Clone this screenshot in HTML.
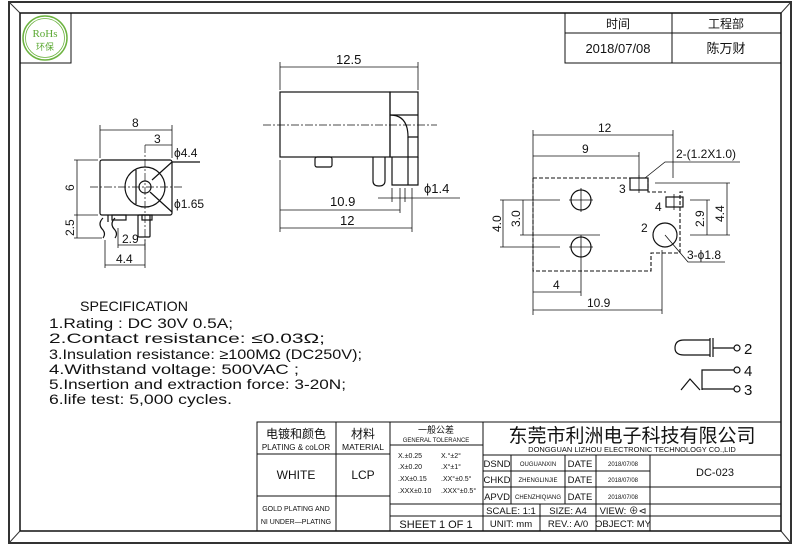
<!DOCTYPE html>
<html><head><meta charset="utf-8"><style>
html,body{margin:0;padding:0;background:#fff;}
svg{display:block;font-family:"Liberation Sans","Noto Sans CJK SC",sans-serif;}
</style></head><body>
<svg width="800" height="545" viewBox="0 0 800 545" xmlns="http://www.w3.org/2000/svg">
<rect x="0" y="0" width="800" height="545" fill="#fff"/>
<!-- frame -->
<rect x="9" y="2" width="782" height="541" fill="none" stroke="#333" stroke-width="2"/>
<rect x="20" y="13" width="761" height="518" fill="none" stroke="#111" stroke-width="1.5"/>
<g stroke="#333" stroke-width="1"><line x1="9" y1="2" x2="20" y2="13"/><line x1="791" y1="2" x2="781" y2="13"/><line x1="9" y1="543" x2="20" y2="531"/><line x1="791" y1="543" x2="781" y2="531"/></g>

<!-- RoHS -->
<rect x="20" y="13" width="51" height="50" fill="none" stroke="#111" stroke-width="1"/>
<circle cx="45" cy="38" r="22" fill="none" stroke="#6cb33f" stroke-width="1.5"/>
<circle cx="45" cy="38" r="19.5" fill="none" stroke="#6cb33f" stroke-width="0.8"/>
<text x="45" y="37" font-size="11" fill="#5aa832" text-anchor="middle" font-family="Liberation Serif,serif">RoHs</text>
<text x="45" y="50" font-size="9" fill="#5aa832" text-anchor="middle">环保</text>

<!-- top-right table -->
<g stroke="#111" stroke-width="1" fill="none">
<rect x="565" y="13" width="216" height="50"/>
<line x1="565" y1="33" x2="781" y2="33"/><line x1="672" y1="13" x2="672" y2="63"/>
</g>
<g font-size="12" text-anchor="middle" fill="#111">
<text x="618" y="28">时间</text><text x="726" y="28">工程部</text>
<text x="618" y="53" font-size="13">2018/07/08</text><text x="726" y="53" font-size="13">陈万财</text>
</g>

<!-- front view -->
<g stroke="#111" stroke-width="1.2" fill="none">
<rect x="100" y="160" width="72" height="55" rx="2"/>
<circle cx="145" cy="187" r="20"/>
<circle cx="145" cy="187" r="6"/>
<line x1="136" y1="170" x2="136" y2="204"/>
<line x1="152" y1="180" x2="172" y2="162"/><line x1="172" y1="162" x2="200" y2="162"/>
<line x1="150" y1="192" x2="172" y2="212"/>
<line x1="108" y1="215" x2="108" y2="222"/>
<path d="M103 218 q-6 6 0 12 q3 4 0 8"/><path d="M115 218 q-6 6 0 12 q3 4 0 8"/>
<rect x="112" y="215" width="14" height="5"/>
<rect x="138" y="215" width="12" height="22" rx="1"/><rect x="142" y="215" width="10" height="5"/>
</g>
<g stroke="#111" stroke-width="0.7" fill="none" stroke-dasharray="8 2 2 2">
<line x1="90" y1="187" x2="183" y2="187"/><line x1="145" y1="145" x2="145" y2="250"/>
</g>
<g stroke="#111" stroke-width="0.8" fill="none">
<line x1="100" y1="125" x2="100" y2="158"/><line x1="172" y1="125" x2="172" y2="158"/>
<line x1="100" y1="130" x2="172" y2="130"/>
<line x1="145" y1="145" x2="172" y2="145"/>
<line x1="74" y1="160" x2="98" y2="160"/><line x1="74" y1="215" x2="98" y2="215"/><line x1="74" y1="238" x2="102" y2="238"/>
<line x1="77" y1="160" x2="77" y2="238"/>
<line x1="118" y1="228" x2="118" y2="248"/><line x1="118" y1="245" x2="145" y2="245"/>
<line x1="105" y1="240" x2="105" y2="268"/><line x1="145" y1="240" x2="145" y2="268"/><line x1="105" y1="265" x2="145" y2="265"/>
</g>
<g font-size="12" fill="#111">
<text x="132" y="127">8</text><text x="154" y="143">3</text>
<text x="174" y="157">ϕ4.4</text><text x="174" y="208">ϕ1.65</text>
<text x="122" y="243">2.9</text><text x="116" y="263">4.4</text>
<text transform="translate(74,191) rotate(-90)">6</text>
<text transform="translate(74,236) rotate(-90)">2.5</text>
</g>

<!-- side view -->
<g stroke="#111" stroke-width="1.2" fill="none">
<rect x="280" y="92" width="110" height="65"/>
<rect x="390" y="92" width="28" height="65"/>
<path d="M390 115 q18 0 18 22 L418 137"/><line x1="390" y1="115" x2="418" y2="115"/>
<line x1="408" y1="137" x2="408" y2="185"/>
<rect x="315" y="157" width="17" height="10" rx="2"/>
<path d="M373 157 V181 q0 5 6 5 q6 0 6 -5 V157"/>
<path d="M392 157 V185 H418 V157"/>
</g>
<line x1="263" y1="125" x2="437" y2="125" stroke="#111" stroke-width="0.7" stroke-dasharray="8 2 2 2"/>
<g stroke="#111" stroke-width="0.8" fill="none">
<line x1="280" y1="62" x2="280" y2="90"/><line x1="418" y1="62" x2="418" y2="90"/><line x1="280" y1="67" x2="418" y2="67"/>
<line x1="280" y1="160" x2="280" y2="232"/><line x1="400" y1="188" x2="400" y2="213"/><line x1="412" y1="188" x2="412" y2="232"/>
<line x1="392" y1="188" x2="392" y2="202"/><line x1="405" y1="188" x2="405" y2="202"/>
<line x1="280" y1="210" x2="400" y2="210"/><line x1="280" y1="228" x2="412" y2="228"/>
<line x1="378" y1="198" x2="460" y2="198"/>
</g>
<g font-size="13" fill="#111">
<text x="336" y="64">12.5</text><text x="330" y="206">10.9</text><text x="340" y="225">12</text><text x="424" y="193">ϕ1.4</text>
</g>

<!-- bottom view right -->
<g stroke="#111" stroke-width="1.1" fill="none" stroke-dasharray="4 2">
<path d="M533 178 H630 M648 178 V192 H666 M683 192 H680 V253 H651 V271 H533 V178"/>
</g>
<g stroke="#111" stroke-width="1.2" fill="none">
<rect x="630" y="178" width="18" height="12"/><rect x="666" y="197" width="17" height="10"/>
<circle cx="581" cy="200" r="10"/><circle cx="581" cy="247" r="10"/><circle cx="665" cy="235" r="12"/>
</g>
<g stroke="#111" stroke-width="0.8" fill="none">
<line x1="569" y1="200" x2="593" y2="200"/><line x1="581" y1="188" x2="581" y2="212"/>
<line x1="569" y1="247" x2="593" y2="247"/><line x1="581" y1="235" x2="581" y2="259"/>
<line x1="639" y1="175" x2="639" y2="193"/><line x1="674" y1="194" x2="674" y2="210"/>
<line x1="533" y1="130" x2="533" y2="315"/><line x1="673" y1="130" x2="673" y2="178"/>
<line x1="533" y1="135" x2="673" y2="135"/>
<line x1="639" y1="152" x2="639" y2="178"/><line x1="533" y1="156" x2="639" y2="156"/>
<line x1="500" y1="200" x2="560" y2="200"/><line x1="500" y1="247" x2="560" y2="247"/>
<line x1="503" y1="200" x2="503" y2="247"/>
<line x1="520" y1="235" x2="600" y2="235"/><line x1="523" y1="200" x2="523" y2="235"/>
<line x1="655" y1="183" x2="730" y2="183"/><line x1="690" y1="200" x2="710" y2="200"/><line x1="690" y1="235" x2="730" y2="235"/>
<line x1="707" y1="200" x2="707" y2="235"/><line x1="727" y1="183" x2="727" y2="235"/>
<line x1="581" y1="259" x2="581" y2="296"/><line x1="533" y1="292" x2="581" y2="292"/>
<line x1="662" y1="250" x2="662" y2="314"/><line x1="533" y1="310" x2="662" y2="310"/>
<polyline points="645,178 665,162 740,162"/>
<polyline points="665,235 688,262 725,262"/>
</g>
<g font-size="12" fill="#111">
<text x="598" y="132">12</text><text x="582" y="153">9</text>
<text x="676" y="158">2-(1.2X1.0)</text>
<text x="619" y="193">3</text><text x="655" y="211">4</text><text x="641" y="232">2</text>
<text x="687" y="259">3-ϕ1.8</text>
<text x="553" y="289">4</text><text x="587" y="307">10.9</text>
<text transform="translate(501,232) rotate(-90)">4.0</text>
<text transform="translate(520,227) rotate(-90)">3.0</text>
<text transform="translate(704,227) rotate(-90)">2.9</text>
<text transform="translate(724,222) rotate(-90)">4.4</text>
</g>

<!-- specification -->
<g font-size="14" fill="#111">
<text x="80" y="311" textLength="108" lengthAdjust="spacingAndGlyphs">SPECIFICATION</text>
<text x="49" y="328" textLength="184" lengthAdjust="spacingAndGlyphs">1.Rating : DC 30V 0.5A;</text>
<text x="49" y="343" textLength="276" lengthAdjust="spacingAndGlyphs">2.Contact resistance: ≤0.03Ω;</text>
<text x="49" y="359" textLength="313" lengthAdjust="spacingAndGlyphs">3.Insulation resistance: ≥100MΩ (DC250V);</text>
<text x="49" y="374" textLength="250" lengthAdjust="spacingAndGlyphs">4.Withstand voltage: 500VAC ;</text>
<text x="49" y="389" textLength="297" lengthAdjust="spacingAndGlyphs">5.Insertion and extraction force: 3-20N;</text>
<text x="49" y="404" textLength="183" lengthAdjust="spacingAndGlyphs">6.life test: 5,000 cycles.</text>
</g>

<!-- schematic -->
<g stroke="#111" stroke-width="1.2" fill="none">
<path d="M710 340 H684 q-9 0 -9 8 q0 7 9 7 H710"/><line x1="710" y1="338" x2="710" y2="357"/><line x1="713" y1="338" x2="713" y2="357"/>
<line x1="713" y1="348" x2="734" y2="348"/><circle cx="737" cy="348" r="3"/>
<polyline points="702,390 702,370 734,370"/><circle cx="737" cy="370" r="3"/>
<line x1="702" y1="389" x2="734" y2="389"/><circle cx="737" cy="389" r="3"/>
<polyline points="681,390 690,379 700,390"/>
</g>
<g font-size="15" fill="#111"><text x="744" y="354">2</text><text x="744" y="376">4</text><text x="744" y="395">3</text></g>

<!-- title block -->
<g stroke="#111" stroke-width="1" fill="none">
<rect x="257" y="422" width="524" height="109"/>
<line x1="336" y1="422" x2="336" y2="531"/><line x1="390" y1="422" x2="390" y2="531"/><line x1="483" y1="422" x2="483" y2="531"/>
<line x1="257" y1="454" x2="390" y2="454"/><line x1="257" y1="496" x2="390" y2="496"/>
<line x1="390" y1="445" x2="483" y2="445"/>
<line x1="390" y1="504" x2="781" y2="504"/><line x1="390" y1="516" x2="781" y2="516"/>
<line x1="483" y1="455" x2="781" y2="455"/><line x1="483" y1="471" x2="650" y2="471"/><line x1="483" y1="487" x2="781" y2="487"/>
<line x1="511" y1="455" x2="511" y2="504"/><line x1="565" y1="455" x2="565" y2="504"/><line x1="596" y1="455" x2="596" y2="531"/><line x1="650" y1="455" x2="650" y2="531"/>
<line x1="540" y1="504" x2="540" y2="531"/>
</g>
<g fill="#111" text-anchor="middle">
<text x="296" y="438" font-size="12">电镀和颜色</text>
<text x="296" y="450" font-size="8">PLATING &amp; coLOR</text>
<text x="363" y="438" font-size="12">材料</text>
<text x="363" y="450" font-size="8.5">MATERIAL</text>
<text x="436" y="433" font-size="9">一般公差</text>
<text x="436" y="442" font-size="6">GENERAL TOLERANCE</text>
<text x="296" y="479" font-size="12">WHITE</text>
<text x="363" y="479" font-size="12">LCP</text>
<text x="296" y="511" font-size="7">GOLD PLATING AND</text>
<text x="296" y="524" font-size="7">NI UNDER—PLATING</text>
<text x="436" y="528" font-size="11">SHEET 1 OF 1</text>
<text x="632" y="442" font-size="19">东莞市利洲电子科技有限公司</text>
<text x="632" y="452" font-size="7.5">DONGGUAN LIZHOU ELECTRONIC TECHNOLOGY CO.,LID</text>
<text x="715" y="476" font-size="11">DC-023</text>
</g>
<g fill="#111" font-size="7">
<text x="398" y="458">X.±0.25</text><text x="441" y="458">X.°±2°</text>
<text x="398" y="469">.X±0.20</text><text x="441" y="469">.X°±1°</text>
<text x="398" y="481">.XX±0.15</text><text x="441" y="481">.XX°±0.5°</text>
<text x="398" y="493">.XXX±0.10</text><text x="441" y="493">.XXX°±0.5°</text>
</g>
<g fill="#111" font-size="9.5" text-anchor="middle">
<text x="497" y="467">DSND</text><text x="497" y="483">CHKD</text><text x="497" y="500">APVD</text>
<text x="580" y="467">DATE</text><text x="580" y="483">DATE</text><text x="580" y="500">DATE</text>
<text x="511" y="514">SCALE: 1:1</text><text x="568" y="514">SIZE: A4</text><text x="623" y="514">VIEW: ⊕⊲</text>
<text x="511" y="527">UNIT: mm</text><text x="568" y="527">REV.: A/0</text><text x="623" y="527">OBJECT: MY</text>
</g>
<g fill="#111" font-size="6" text-anchor="middle">
<text x="538" y="466">OUGUANXIN</text><text x="538" y="482">ZHENGLINJIE</text><text x="538" y="499">CHENZHIQIANG</text>
<text x="623" y="466">2018/07/08</text><text x="623" y="482">2018/07/08</text><text x="623" y="499">2018/07/08</text>
</g>
</svg>
</body></html>
